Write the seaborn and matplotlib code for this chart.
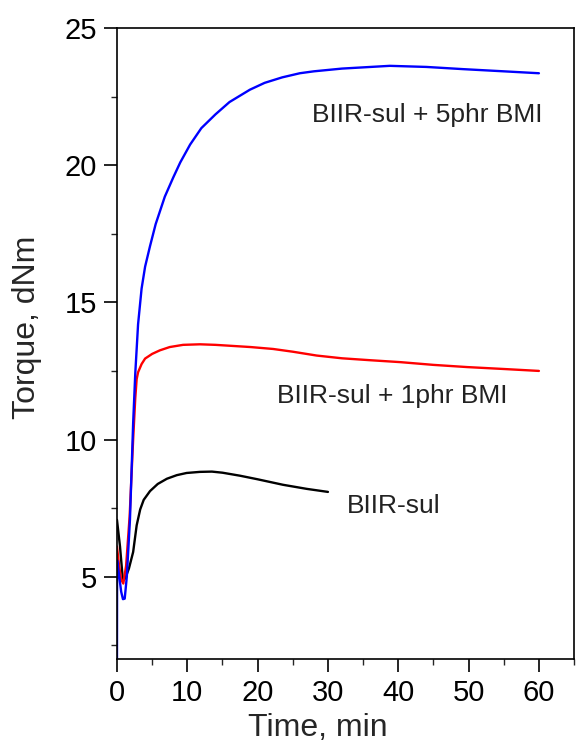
import matplotlib
matplotlib.use("Agg")
import matplotlib.pyplot as plt
import seaborn as sns
import pandas as pd
from matplotlib.ticker import MultipleLocator

# ---- data ----
blue_t = [0, 0.02, 0.3, 0.6, 0.85, 1.1, 1.4, 1.85, 2.3, 2.6, 3.0, 3.5, 4.0, 4.7, 5.5, 6.8, 8.0,
          9.0, 10.4, 12.0, 14.0, 16.0, 18.9, 21.0, 23.5, 26.0, 28.0, 32.0, 38.8, 44.0, 49.2, 55.0, 60.0]
blue_v = [2.0, 5.6, 5.05, 4.45, 4.18, 4.2, 5.0, 7.1, 10.6, 12.4, 14.2, 15.5, 16.3, 17.05, 17.85, 18.85, 19.55,
          20.1, 20.75, 21.35, 21.85, 22.3, 22.75, 23.0, 23.2, 23.35, 23.42, 23.52, 23.62, 23.58, 23.5, 23.42, 23.35]

red_t = [0, 0.3, 0.6, 0.9, 1.3, 1.8, 2.3, 2.6, 2.8, 3.0, 3.5, 4.0, 5.0, 6.1, 7.5, 9.4, 11.8,
         14.0, 16.5, 19.0, 22.2, 25.0, 28.4, 32.0, 36.0, 40.3, 45.0, 49.8, 55.0, 60.0]
red_v = [6.1, 5.4, 4.9, 4.75, 5.4, 7.2, 10.0, 11.5, 12.2, 12.45, 12.75, 12.95, 13.12, 13.25, 13.37, 13.45, 13.47,
         13.45, 13.41, 13.37, 13.3, 13.2, 13.06, 12.96, 12.89, 12.82, 12.72, 12.64, 12.57, 12.5]

black_t = [0, 0.43, 0.85, 1.2, 1.7, 2.3, 2.8, 3.3, 3.8, 4.7, 5.8, 7.1, 8.5, 9.9, 11.8,
           13.5, 15.0, 17.5, 20.0, 23.6, 27.0, 30.0]
black_v = [7.07, 6.1, 4.85, 4.95, 5.3, 5.9, 6.87, 7.45, 7.8, 8.12, 8.38, 8.57, 8.7, 8.78, 8.82,
           8.83, 8.79, 8.68, 8.55, 8.35, 8.2, 8.09]

series_names = ["BIIR-sul", "BIIR-sul + 1phr BMI", "BIIR-sul + 5phr BMI"]
series_colors = ["black", "#ff0000", "#0000ff"]

x_label = "Time, min"
y_label = "Torque, dNm"
x_ticks = [0, 10, 20, 30, 40, 50, 60]
y_ticks = [5, 10, 15, 20, 25]

# ---- build table ----
frames = []
for name, t, v in zip(series_names, [black_t, red_t, blue_t], [black_v, red_v, blue_v]):
    frames.append(pd.DataFrame({"t": t, "v": v, "s": name}))
df = pd.concat(frames, ignore_index=True)

sns.set_style("ticks")
plt.rcParams["font.family"] = ["Liberation Sans", "DejaVu Sans"]

fig = plt.figure(figsize=(5.84, 7.48), dpi=100)
ax = fig.add_axes([0.2003, 0.119, 0.7827, 0.8436])

sns.lineplot(data=df, x="t", y="v", hue="s", palette=dict(zip(series_names, series_colors)),
             estimator=None, sort=False, units="s", linewidth=1.7, legend=False, ax=ax)

ax.set_xlim(0, 65)
ax.set_ylim(2, 25)
ax.set_xticks(x_ticks)
ax.set_yticks(y_ticks)
ax.xaxis.set_minor_locator(MultipleLocator(5))
ax.yaxis.set_minor_locator(MultipleLocator(2.5))
ax.tick_params(axis="both", which="major", direction="out", length=9.5, width=1.2,
               labelsize=21, colors="black", pad=5)
ax.tick_params(axis="both", which="minor", direction="out", length=4, width=1.0)
for sp in ax.spines.values():
    sp.set_visible(True)
    sp.set_linewidth(1.2)
    sp.set_color("black")

ax.set_xlabel(x_label, fontsize=23)
ax.set_ylabel(y_label, fontsize=23)
ax.xaxis.set_label_coords(0.4386, -0.085)
ax.yaxis.set_label_coords(-0.1645, 0.526)

ax.text(27.7, 21.84, series_names[2], fontsize=19, color="#222222", va="center", ha="left")
ax.text(22.8, 11.58, series_names[1], fontsize=19, color="#222222", va="center", ha="left")
ax.text(32.7, 7.58, series_names[0], fontsize=19, color="#222222", va="center", ha="left")

fig.savefig("out.png", dpi=100)
